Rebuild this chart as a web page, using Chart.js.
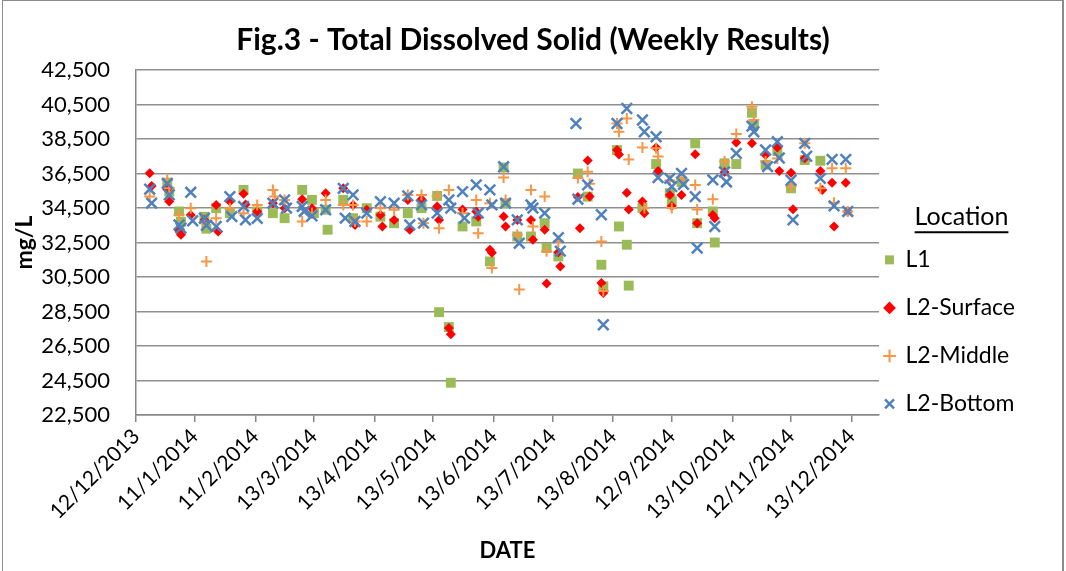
<!DOCTYPE html>
<html>
<head>
<meta charset="utf-8">
<title>Fig.3 - Total Dissolved Solid</title>
<script src="https://cdn.jsdelivr.net/npm/chart.js@4.4.1/dist/chart.umd.min.js"></script>
<style>
    html, body { margin: 0; padding: 0; background: #fff; }
    #wrap { position: relative; width: 1066px; height: 571px; overflow: hidden; }
    #frame { position: absolute; left: 2px; top: 0; width: 1059px; height: 580px;
             border: 1px solid #8c8c8c; border-right-width: 2px; pointer-events: none; }
</style>
</head>
<body>
<div id="wrap">
    <canvas id="tdsChart" width="1066" height="571"></canvas>
    <div id="frame"></div>
</div>
<script>
// x values are days after 12/12/2013
var tickLabels = ['12/12/2013', '11/1/2014', '11/2/2014', '13/3/2014', '13/4/2014', '13/5/2014', '13/6/2014',
    '13/7/2014', '13/8/2014', '12/9/2014', '13/10/2014', '12/11/2014', '13/12/2014'];
var tickDays = [0, 30, 61, 91, 122, 152, 183, 213, 244, 274, 305, 335, 366];
var yTicks = [22500, 24500, 26500, 28500, 30500, 32500, 34500, 36500, 38500, 40500, 42500];

var l1Days = [16, 17, 22, 23, 35, 36, 41, 48, 55, 62, 70, 76, 85, 90, 91, 97, 98, 106, 111, 118, 125, 132, 139, 146,
    154, 155, 160, 161, 167, 174, 181, 188, 189, 195, 202, 209, 210, 216, 226, 231, 238, 239, 246, 247, 251, 252,
    259, 266, 273, 274, 279, 286, 287, 295, 296, 301, 307, 315, 316, 322, 328, 335, 342, 350];
var l1Values = [35970, 35450, 34300, 33700, 33990, 33300, 34490, 34200, 35550, 34300, 34200, 33910, 35550, 34970,
    34200, 34400, 33240, 34970, 33910, 34490, 34000, 33620, 34200, 34490, 35200, 28460, 27600, 24370, 33430, 33720,
    31400, 36850, 34780, 32850, 32850, 33620, 32180, 31690, 36500, 35160, 31210, 29960, 37860, 33430, 32370, 30000,
    34500, 37050, 35360, 34900, 36000, 38250, 33620, 34300, 32500, 37090, 37050, 40020, 39310, 37010, 37800, 35640,
    37280, 37240];

var surfaceDays = [7, 8, 16, 17, 22, 23, 28, 35, 41, 42, 48, 55, 56, 62, 70, 76, 85, 90, 97, 106, 111, 112, 118, 125,
    126, 132, 139, 140, 146, 154, 155, 160, 161, 167, 174, 175, 181, 182, 188, 189, 195, 202, 203, 209, 210, 216, 217,
    226, 227, 231, 232, 238, 239, 246, 247, 251, 252, 259, 260, 266, 267, 273, 274, 279, 286, 287, 295, 296, 301, 307,
    315, 322, 328, 329, 335, 336, 342, 350, 351, 356, 357, 363, 364];
var surfaceValues = [36510, 35780, 35590, 34870, 33200, 32950, 34100, 33800, 34680, 33140, 34870, 35320, 34700, 34300,
    34780, 34490, 35010, 34490, 35360, 35640, 34680, 33520, 34400, 34100, 33430, 33810, 34970, 33240, 35010, 34580,
    33810, 27550, 27180, 34410, 34300, 34000, 32080, 31900, 34010, 33430, 33810, 33810, 32660, 33240, 30120, 31940,
    31110, 35140, 33330, 37260, 35160, 30150, 29570, 37860, 37600, 35380, 34410, 34870, 34200, 38010, 36640, 35260,
    34620, 35260, 37610, 33620, 34100, 33900, 36590, 38290, 38250, 37570, 38010, 36640, 36550, 34430, 37380, 36640,
    35550, 35970, 33430, 35970, 34300];

var middleDays = [7, 16, 17, 22, 28, 35, 36, 41, 48, 55, 62, 70, 71, 76, 85, 90, 97, 106, 111, 112, 118, 125, 132, 139,
    146, 147, 154, 155, 160, 167, 174, 175, 181, 182, 188, 189, 195, 196, 202, 203, 209, 210, 216, 226, 231, 232, 238,
    239, 246, 247, 251, 252, 259, 260, 266, 267, 273, 274, 279, 286, 287, 295, 301, 307, 315, 316, 322, 328, 335, 342,
    350, 356, 357, 363, 364];
var middleValues = [35160, 36130, 35650, 34100, 34490, 33620, 31400, 33910, 34490, 34200, 34680, 35550, 35160, 34970,
    33720, 34200, 34970, 34680, 34680, 33720, 33720, 34490, 34400, 35260, 35260, 33620, 35200, 33330, 35550, 34200,
    34970, 33040, 34780, 31020, 36270, 34970, 32950, 29770, 35550, 33430, 35160, 32000, 32560, 36240, 36600, 35900,
    32560, 29690, 39400, 38920, 39690, 37310, 38010, 34500, 37960, 37480, 36100, 34500, 36200, 35840, 34410, 35010,
    37200, 38790, 40370, 39600, 37200, 37370, 35740, 38250, 35640, 36800, 34800, 36800, 34300];

var bottomDays = [7, 8, 16, 17, 22, 23, 28, 29, 35, 36, 41, 48, 49, 55, 56, 62, 70, 76, 77, 85, 86, 90, 97, 106, 107,
    111, 112, 118, 125, 132, 139, 140, 146, 147, 154, 160, 161, 167, 168, 174, 175, 181, 182, 188, 189, 195, 196, 202,
    203, 209, 216, 217, 225, 226, 231, 238, 239, 246, 251, 259, 260, 266, 267, 273, 274, 279, 280, 286, 287, 295, 296,
    301, 302, 307, 315, 316, 322, 323, 328, 329, 335, 336, 342, 343, 350, 356, 357, 363, 364];
var bottomValues = [35590, 34780, 35930, 35260, 33520, 33330, 35410, 33760, 33910, 33500, 33430, 35160, 34000, 34590,
    33810, 33900, 34780, 34970, 34490, 34590, 34300, 34040, 34400, 35640, 33910, 35260, 33720, 34200, 34870, 34780,
    35200, 33520, 34680, 33620, 34200, 34970, 34490, 35450, 33910, 35840, 34200, 35550, 34680, 36890, 34780, 33810,
    32460, 34680, 34490, 34200, 32780, 32000, 39400, 35010, 35840, 34110, 27730, 39400, 40270, 39600, 38920, 38630,
    36270, 36220, 35740, 36510, 35870, 35160, 32180, 36130, 33430, 36590, 36010, 37670, 39250, 38920, 37860, 36900,
    38340, 37400, 36110, 33810, 38250, 37500, 36220, 37320, 34620, 37320, 34300];

function toPoints(days, values) {
    return days.map(function(d, i) { return { x: d, y: values[i] }; });
}

var LEGEND_TITLE_SIZE = 25;
var LEGEND_TITLE_PAD = 74;
var LEGEND_PAD = 25;

// centres the title on the whole canvas, moves the legend over a bit and underlines its title
var layoutTweak = {
    id: 'layoutTweak',
    afterLayout: function(chart) {
        var tb = chart.titleBlock;
        tb.left = 0;
        tb.right = chart.width;
        tb.width = chart.width;

        var lg = chart.legend;
        lg.left = chart.chartArea.right - 19;
        lg.right = chart.width - 3;
        lg.width = lg.right - lg.left;
    },
    afterDraw: function(chart) {
        var lg = chart.legend;
        var ctx = chart.ctx;
        var colH = Math.max.apply(null, lg.columnSizes.map(function(c) { return c.height; }));
        var titleH = LEGEND_TITLE_SIZE * 0.75 + LEGEND_TITLE_PAD;
        var titleY = LEGEND_TITLE_PAD + LEGEND_TITLE_SIZE / 2 + (lg.top + lg.bottom - colH - LEGEND_PAD - titleH) / 2;
        ctx.save();
        ctx.font = LEGEND_TITLE_SIZE + 'px Lato';
        var w = ctx.measureText('Location').width;
        var cx = lg.left + lg.width / 2;
        ctx.strokeStyle = '#000';
        ctx.lineWidth = 2;
        ctx.beginPath();
        ctx.moveTo(cx - w / 2, titleY + 15);
        ctx.lineTo(cx + w / 2, titleY + 15);
        ctx.stroke();
        ctx.restore();
    }
};

Chart.defaults.font.family = 'Lato';
Chart.defaults.color = '#000';

var ctx = document.getElementById('tdsChart').getContext('2d');
new Chart(ctx, {
    type: 'scatter',
    data: {
        // drawn last-first, so the list is reversed to keep L2-Bottom on top
        datasets: [{
            label: 'L2-Bottom',
            data: toPoints(bottomDays, bottomValues),
            pointStyle: 'crossRot',
            pointRadius: 7.5,
            borderColor: '#4f81bd',
            backgroundColor: '#4f81bd',
            borderWidth: 2.5
        }, {
            label: 'L2-Middle',
            data: toPoints(middleDays, middleValues),
            pointStyle: 'cross',
            pointRadius: 5.5,
            borderColor: '#f79646',
            backgroundColor: '#f79646',
            borderWidth: 2
        }, {
            label: 'L2-Surface',
            data: toPoints(surfaceDays, surfaceValues),
            pointStyle: 'rectRot',
            pointRadius: 5,
            borderColor: '#ff0000',
            backgroundColor: '#ff0000',
            borderWidth: 0
        }, {
            label: 'L1',
            data: toPoints(l1Days, l1Values),
            pointStyle: 'rect',
            pointRadius: 7,
            borderColor: '#9bbb59',
            backgroundColor: '#9bbb59',
            borderWidth: 0
        }]
    },
    options: {
        responsive: false,
        animation: false,
        layout: { padding: { left: 4, right: 22, top: 0, bottom: 0 } },
        plugins: {
            title: {
                display: true,
                text: 'Fig.3 - Total Dissolved Solid (Weekly Results)',
                font: { size: 30, weight: 'bold' },
                padding: { top: 22, bottom: 12 }
            },
            legend: {
                position: 'right',
                align: 'center',
                reverse: true,
                title: {
                    display: true,
                    text: 'Location',
                    font: { size: LEGEND_TITLE_SIZE, lineHeight: 0.75 },
                    padding: { top: LEGEND_TITLE_PAD, bottom: 0 }
                },
                labels: {
                    usePointStyle: true,
                    boxWidth: 9,
                    boxHeight: 9,
                    padding: LEGEND_PAD,
                    font: { size: 23 }
                }
            },
            tooltip: { enabled: false }
        },
        scales: {
            x: {
                type: 'linear',
                min: 0,
                max: 380,
                afterBuildTicks: function(axis) {
                    axis.ticks = tickDays.map(function(d) { return { value: d }; });
                },
                afterFit: function(scale) { scale.height = 156; },
                ticks: {
                    autoSkip: false,
                    minRotation: 45,
                    maxRotation: 45,
                    padding: 2,
                    font: { size: 21 },
                    callback: function(value, index) { return tickLabels[index]; }
                },
                grid: { drawOnChartArea: false, color: '#868686', tickLength: 7, lineWidth: 1.5 },
                border: { color: '#868686', width: 1.5 },
                title: {
                    display: true,
                    text: 'DATE',
                    font: { size: 22, weight: 'bold' },
                    padding: { top: 0, bottom: 7 }
                }
            },
            y: {
                min: 22500,
                max: 42500,
                afterBuildTicks: function(axis) {
                    axis.ticks = yTicks.map(function(v) { return { value: v }; });
                },
                afterFit: function(scale) { scale.width = 132; },
                ticks: {
                    padding: 26,
                    font: { size: 22 },
                    callback: function(value) { return value.toLocaleString('en-US'); }
                },
                grid: { color: '#8f8f8f', lineWidth: 1.5, drawTicks: false },
                border: { color: '#868686', width: 1.5 },
                title: {
                    display: true,
                    text: 'mg/L',
                    font: { size: 23, weight: 'bold' },
                    padding: { top: 7, bottom: 0 }
                }
            }
        }
    },
    plugins: [layoutTweak]
});
</script>
</body>
</html>
